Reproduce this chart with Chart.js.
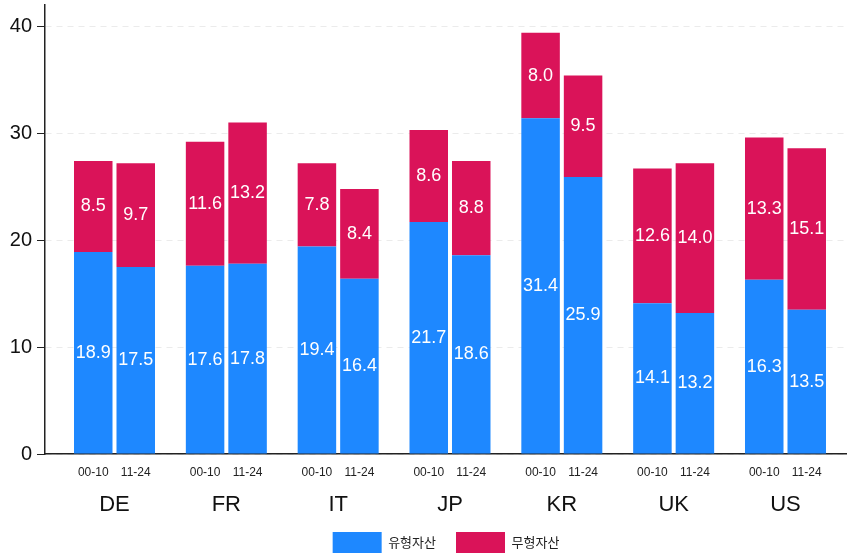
<!DOCTYPE html>
<html lang="ko">
<head>
<meta charset="UTF-8">
<title>유형자산 · 무형자산</title>
<script src="https://cdn.jsdelivr.net/npm/chart.js"></script>
<style>
  html, body { margin: 0; padding: 0; background: #fff; }
  #wrap { width: 847px; height: 554px; }
</style>
</head>
<body>
<div id="wrap"><canvas id="assetChart"></canvas></div>
<script>
// country groups, two periods per group
const countries = ['DE', 'FR', 'IT', 'JP', 'KR', 'UK', 'US'];
const periods = ['00-10', '11-24'];
const tangible0010   = [18.9, 17.6, 19.4, 21.7, 31.4, 14.1, 16.3];
const intangible0010 = [8.5, 11.6, 7.8, 8.6, 8.0, 12.6, 13.3];
const tangible1124   = [17.5, 17.8, 16.4, 18.6, 25.9, 13.2, 13.5];
const intangible1124 = [9.7, 13.2, 8.4, 8.8, 9.5, 14.0, 15.1];
const yTicks = [0, 10, 20, 30, 40];

const BLUE = '#1e88ff';
const RED = '#da1359';
const FONT = "'Liberation Sans', Arial, sans-serif";

// group i sits at x = i + 1 on a linear axis
const toPoints = arr => arr.map((v, i) => ({ x: i + 1, y: v }));

// white numbers in the middle of each segment, period under each bar
const barText = {
    id: 'barText',
    afterDatasetsDraw(chart) {
        const ctx = chart.ctx;
        const area = chart.chartArea;
        ctx.save();
        ctx.textAlign = 'center';
        ctx.textBaseline = 'middle';
        chart.data.datasets.forEach((ds, di) => {
            const meta = chart.getDatasetMeta(di);
            meta.data.forEach((bar, i) => {
                const p = bar.getProps(['x', 'y', 'base'], true);
                ctx.fillStyle = '#fff';
                ctx.font = '18px ' + FONT;
                ctx.fillText(ds.data[i].y.toFixed(1), p.x, (p.y + p.base) / 2);
                if (di % 2 === 0) {
                    ctx.fillStyle = '#222';
                    ctx.font = '12px ' + FONT;
                    ctx.fillText(periods[di / 2], p.x, area.bottom + 18.5);
                }
            });
        });
        ctx.restore();
    }
};

new Chart(document.getElementById('assetChart'), {
    type: 'bar',
    data: {
        datasets: [
            { label: '유형자산', data: toPoints(tangible0010),   backgroundColor: BLUE, stack: periods[0] },
            { label: '무형자산', data: toPoints(intangible0010), backgroundColor: RED,  stack: periods[0] },
            { label: '유형자산', data: toPoints(tangible1124),   backgroundColor: BLUE, stack: periods[1] },
            { label: '무형자산', data: toPoints(intangible1124), backgroundColor: RED,  stack: periods[1] }
        ]
    },
    options: {
        responsive: true,
        maintainAspectRatio: false,
        animation: false,
        categoryPercentage: 0.76,
        barPercentage: 0.906,
        layout: { padding: { top: 5, right: 0, left: 0, bottom: -9 } },
        plugins: {
            legend: {
                position: 'bottom',
                fullSize: false,
                labels: {
                    boxWidth: 49,
                    boxHeight: 21,
                    padding: 20,
                    color: '#222',
                    font: { family: "'Noto Sans CJK KR', sans-serif", size: 13 },
                    filter: item => item.datasetIndex < 2
                }
            },
            tooltip: { enabled: false }
        },
        scales: {
            x: {
                type: 'linear',
                stacked: true,
                offset: false,
                min: 0.3785,
                max: 7.55,
                afterBuildTicks: s => { s.ticks = countries.map((c, i) => ({ value: i + 1 })); },
                afterFit: s => { s.height = 58; s.paddingLeft = 0; s.paddingRight = 0; },
                grid: { display: false, drawTicks: false, offset: false },
                border: { display: true, color: '#222', width: 1.5 },
                ticks: {
                    autoSkip: false,
                    maxRotation: 0,
                    padding: 38,
                    color: '#111',
                    font: { family: FONT, size: 22 },
                    callback: v => countries[v - 1]
                }
            },
            y: {
                stacked: true,
                min: 0,
                max: 42,
                afterBuildTicks: s => { s.ticks = yTicks.map(v => ({ value: v })); },
                afterFit: s => { s.width = 45; s.paddingTop = 0; s.paddingBottom = 0; },
                grid: { color: '#ebebeb', tickColor: '#222', tickLength: 8, lineWidth: 1 },
                border: { display: true, color: '#222', width: 1.5, dash: [6, 5] },
                ticks: {
                    padding: 5,
                    color: '#111',
                    font: { family: FONT, size: 20 }
                }
            }
        }
    },
    plugins: [barText]
});
</script>
</body>
</html>
